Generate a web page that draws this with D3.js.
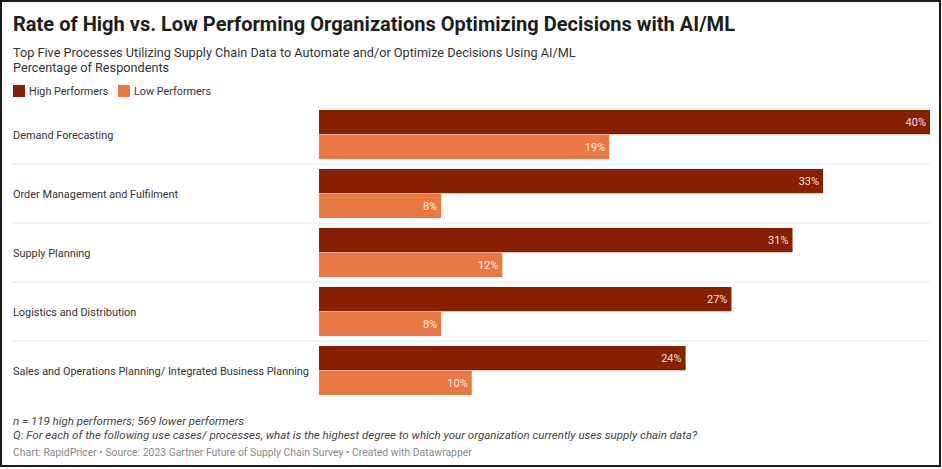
<!DOCTYPE html>
<html><head><meta charset="utf-8">
<script src="https://cdn.jsdelivr.net/npm/d3@7"></script>
<style>
html,body{margin:0;padding:0;background:#fff;}
text{font-family:Roboto, "Noto Sans", sans-serif;}
</style></head>
<body>
<svg id="c" width="942" height="469"></svg>
<script>
const categories = ["Demand Forecasting","Order Management and Fulfilment","Supply Planning","Logistics and Distribution","Sales and Operations Planning/ Integrated Business Planning"];
const highPerformers = [40,33,31,27,24];
const lowPerformers = [19,8,12,8,10];
const seriesNames = ["High Performers","Low Performers"];
const colors = ["#862000","#e97842"];

const svg = d3.select("#c");
svg.append("rect").attr("x",1).attr("y",1).attr("width",939).attr("height",465)
  .attr("fill","#fff").attr("stroke","#1a1a1a").attr("stroke-width",2);

svg.append("text").attr("x",13).attr("y",30.5).attr("font-size",20).attr("font-weight",700)
  .attr("fill","#1d1d1d").attr("textLength",722).attr("lengthAdjust","spacingAndGlyphs")
  .text("Rate of High vs. Low Performing Organizations Optimizing Decisions with AI/ML");
svg.append("text").attr("x",13).attr("y",57).attr("font-size",12.7).attr("fill","#333")
  .text("Top Five Processes Utilizing Supply Chain Data to Automate and/or Optimize Decisions Using AI/ML");
svg.append("text").attr("x",13).attr("y",71.5).attr("font-size",12.7).attr("fill","#333")
  .text("Percentage of Respondents");

// legend
const lg = svg.append("g");
const lx = [13,118];
seriesNames.forEach((n,i)=>{
  lg.append("rect").attr("x",lx[i]).attr("y",85).attr("width",12).attr("height",12).attr("fill",colors[i]);
  lg.append("text").attr("x",lx[i]+16).attr("y",95).attr("font-size",10.8).attr("fill","#333").text(n);
});

const x = d3.scaleLinear().domain([0,40]).range([319,930]);
const y = d3.scaleBand().domain(categories).range([105,400]).paddingInner(0).paddingOuter(0);
const sub = d3.scaleBand().domain([0,1]).range([5,54]).paddingInner(0.02);

const g = svg.append("g");
categories.forEach((c,i)=>{
  const y0 = y(c);
  if(i>0){
    g.append("line").attr("x1",13).attr("x2",930).attr("y1",y0).attr("y2",y0)
      .attr("stroke","#cfcfcf").attr("stroke-dasharray","1,1");
  }
  g.append("text").attr("x",13).attr("y",y0+sub(1)).attr("dy","0.35em")
    .attr("font-size",10.9).attr("fill","#333").text(c);
  [highPerformers[i], lowPerformers[i]].forEach((v,j)=>{
    g.append("rect").attr("x",x(0)).attr("y",y0+sub(j)).attr("width",x(v)-x(0)).attr("height",sub.bandwidth())
      .attr("fill",colors[j]);
    g.append("text").attr("x",x(v)-4).attr("y",y0+sub(j)+sub.bandwidth()/2).attr("dy","0.35em")
      .attr("text-anchor","end").attr("font-size",11).attr("fill","#fff").attr("fill-opacity",0.9).text(v+"%");
  });
});

svg.append("text").attr("x",13).attr("y",425).attr("font-size",11.5).attr("font-style","italic").attr("fill","#444")
  .text("n = 119 high performers; 569 lower performers");
svg.append("text").attr("x",13).attr("y",439).attr("font-size",11.5).attr("font-style","italic").attr("fill","#444")
  .text("Q: For each of the following use cases/ processes, what is the highest degree to which your organization currently uses supply chain data?");
svg.append("text").attr("x",13).attr("y",456).attr("font-size",10.4).attr("fill","#888")
  .text("Chart: RapidPricer • Source: 2023 Gartner Future of Supply Chain Survey • Created with Datawrapper");
</script>
</body></html>
